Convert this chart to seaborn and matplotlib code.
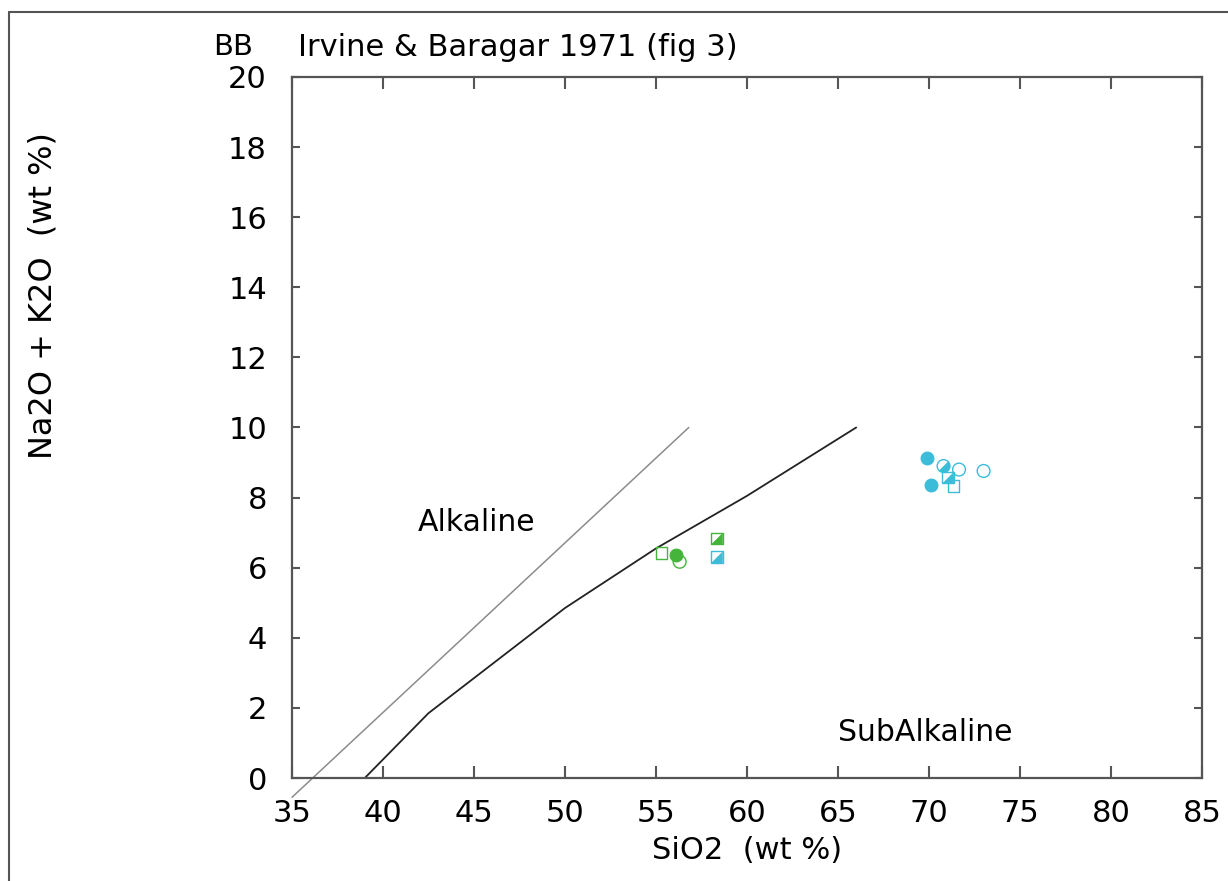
import numpy as np
import pandas as pd
import matplotlib
matplotlib.use("Agg")
import matplotlib.pyplot as plt
import seaborn as sns
from matplotlib.ticker import FixedLocator
from matplotlib.lines import Line2D

# Irvine & Baragar (1971) alkaline / subalkaline dividing curve
ib_sio2 = [39.0, 42.5, 50.0, 55.0, 60.0, 66.0]
ib_alk = [0.0, 1.85, 4.85, 6.55, 8.05, 10.0]

# straight reference boundary
ref_sio2 = [35.0, 56.8]
ref_alk = [-0.55, 10.0]

# sample analyses
sio2 = [55.3, 56.1, 56.3, 58.35, 58.35, 69.9, 70.1, 70.8, 71.05, 71.35, 71.65, 73.0]
alkalis = [6.42, 6.37, 6.17, 6.83, 6.30, 9.14, 8.37, 8.9, 8.57, 8.33, 8.8, 8.76]
colour_key = ["green", "green", "green", "green", "cyan",
              "cyan", "cyan", "cyan", "cyan", "cyan", "cyan", "cyan"]
symbol = ["open square", "filled circle", "open circle", "half square", "half square",
          "filled circle", "filled circle", "half circle", "half square", "open square",
          "open circle", "open circle"]

x_ticks = [35, 40, 45, 50, 55, 60, 65, 70, 75, 80, 85]
y_ticks = [0, 2, 4, 6, 8, 10, 12, 14, 16, 18, 20]

palette = {"green": "#45b43a", "cyan": "#3dbcd9"}

df = pd.DataFrame({"SiO2": sio2, "alk": alkalis, "colour": colour_key, "symbol": symbol})

sns.set_style("ticks")
plt.rcParams["font.family"] = ["DejaVu Sans"]
plt.rcParams["text.color"] = "black"
plt.rcParams["axes.labelcolor"] = "black"
plt.rcParams["xtick.labelcolor"] = "black"
plt.rcParams["ytick.labelcolor"] = "black"

W, H = 1228, 881
fig = plt.figure(figsize=(W / 100, H / 100), dpi=100)
ax = fig.add_axes([292 / W, 1 - 778 / H, 910 / W, 701 / H])

spine_c = "#555555"
for s in ax.spines.values():
    s.set_color(spine_c)
    s.set_linewidth(1.6)

# boundaries
sns.lineplot(x=ref_sio2, y=ref_alk, sort=False, estimator=None, ax=ax,
             color="#8c8c8c", linewidth=1.1, clip_on=False)
sns.lineplot(x=ib_sio2, y=ib_alk, sort=False, estimator=None, ax=ax,
             color="#222222", linewidth=1.3)

# marker shapes
tri_lr = [(-1, -1), (1, -1), (1, 1), (-1, -1)]
ang = np.linspace(np.deg2rad(-135), np.deg2rad(45), 25)
semi_lr = list(zip(np.cos(ang), np.sin(ang))) + [(np.cos(ang[0]), np.sin(ang[0]))]

S_CIRC = 85
S_SQ = 70

for key, col in palette.items():
    sub = df[df["colour"] == key]
    d = sub[sub["symbol"] == "filled circle"]
    if len(d):
        sns.scatterplot(data=d, x="SiO2", y="alk", ax=ax, marker="o", s=S_CIRC,
                        color=col, edgecolor=col, linewidth=0.8, zorder=3)
    d = sub[sub["symbol"] == "open circle"]
    if len(d):
        sns.scatterplot(data=d, x="SiO2", y="alk", ax=ax, marker="o", s=S_CIRC,
                        color=col, facecolor="none", edgecolor=col, linewidth=1.0, zorder=3)
    d = sub[sub["symbol"] == "open square"]
    if len(d):
        sns.scatterplot(data=d, x="SiO2", y="alk", ax=ax, marker="s", s=S_SQ,
                        color=col, facecolor="none", edgecolor=col, linewidth=1.0, zorder=3)
    d = sub[sub["symbol"] == "half square"]
    if len(d):
        sns.scatterplot(data=d, x="SiO2", y="alk", ax=ax, marker=tri_lr, s=S_SQ,
                        color=col, edgecolor="none", linewidth=0, zorder=3)
        sns.scatterplot(data=d, x="SiO2", y="alk", ax=ax, marker="s", s=S_SQ,
                        color=col, facecolor="none", edgecolor=col, linewidth=1.0, zorder=3)
    d = sub[sub["symbol"] == "half circle"]
    if len(d):
        sns.scatterplot(data=d, x="SiO2", y="alk", ax=ax, marker=semi_lr, s=S_CIRC,
                        color=col, edgecolor="none", linewidth=0, zorder=3)
        sns.scatterplot(data=d, x="SiO2", y="alk", ax=ax, marker="o", s=S_CIRC,
                        color=col, facecolor="none", edgecolor=col, linewidth=1.0, zorder=3)

ax.set_xlim(35, 85)
ax.set_ylim(0, 20)

# ticks: labelled every 5 wt%, longer marks at multiples of 10
ax.xaxis.set_major_locator(FixedLocator(x_ticks))
ax.xaxis.set_minor_locator(FixedLocator([t for t in x_ticks if t % 10 == 0]))
ax.set_xticklabels([str(t) for t in x_ticks])
ax.yaxis.set_major_locator(FixedLocator(y_ticks))
ax.set_yticklabels([str(t) for t in y_ticks])
ax.yaxis.set_minor_locator(FixedLocator([]))

ax.tick_params(axis="x", which="major", direction="in", length=8.5, width=1.5,
               color=spine_c, top=True, bottom=True, labelsize=22, pad=15)
ax.tick_params(axis="x", which="minor", direction="in", length=11.5, width=1.5,
               color=spine_c, top=True, bottom=True)
ax.tick_params(axis="y", which="major", direction="in", length=6, width=1.5,
               color=spine_c, left=True, right=True, labelsize=22, pad=18)

ax.set_xlabel("SiO2  (wt %)", fontsize=22)
ax.xaxis.label.set_verticalalignment("top")
ax.xaxis.set_label_coords(0.5, -(836 - 778) / 701)
ax.set_ylabel("Na2O + K2O  (wt %)", fontsize=23)
ax.yaxis.set_label_coords((58 - 292) / 910, (778 - 296) / 701)

ax.text(41.9, 7.3, "Alkaline", fontsize=21.5, va="center", ha="left")
ax.text(65.0, 1.3, "SubAlkaline", fontsize=21.5, va="center", ha="left")

fig.text(213 / W, 1 - 47 / H, "BB", fontsize=21, va="center", ha="left")
fig.text(298 / W, 1 - 47 / H, "Irvine & Baragar 1971 (fig 3)", fontsize=22,
         va="center", ha="left")

# page frame
fig.add_artist(Line2D([9 / W, 9 / W], [0, 1 - 12 / H], transform=fig.transFigure,
                      color=spine_c, linewidth=1.5))
fig.add_artist(Line2D([9 / W, 1], [1 - 12 / H, 1 - 12 / H], transform=fig.transFigure,
                      color=spine_c, linewidth=1.5))

fig.savefig("out.png", dpi=100, facecolor="white")
